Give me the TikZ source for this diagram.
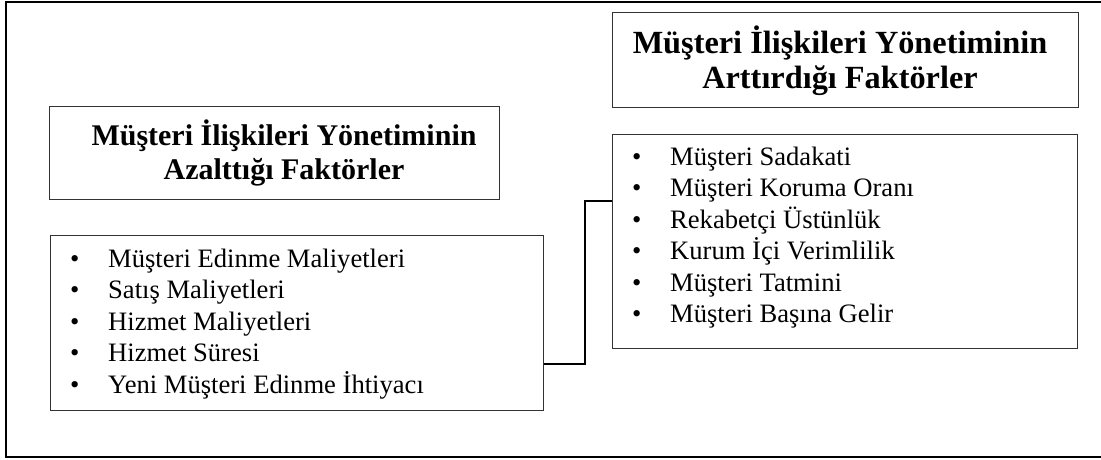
\documentclass[tikz,border=0pt]{standalone}
\usepackage{fontspec}
\setmainfont{Liberation Serif}
\usepackage{array}
\tikzset{
  frameline/.style={line width=2pt, black},
  boxline/.style={draw=black!80, line width=1pt, inner sep=0pt},
  titletext/.style={inner sep=0pt, align=center, font=\bfseries},
  listtext/.style={inner sep=0pt, anchor=base west, align=left},
  conn/.style={line width=1.4pt, black}
}
\newcommand{\bulletlist}[1]{%
  \fontsize{26.6}{31.5}\selectfont
  \begin{tabular}[t]{@{}p{38pt}@{}l@{}}#1\end{tabular}}
\begin{document}
\begin{tikzpicture}[x=1pt, y=-1pt]
  \useasboundingbox (0,0) rectangle (1101,460);
  % outer frame (right side runs off the page)
  \draw[frameline] (1105,2) -- (6,2) -- (6,457) -- (1105,457);

  % left column
  \node[boxline, minimum width=450pt, minimum height=93pt] (lefttitle) at (274,152.5) {};
  \node[titletext, font=\fontsize{30}{34}\selectfont\bfseries] (lefttitletext) at (284,152.5)
    {Müşteri İlişkileri Yönetiminin\\Azalttığı Faktörler};
  \node[boxline, minimum width=493pt, minimum height=175pt] (leftlist) at (296.5,322.5) {};
  \node[listtext] (leftitems) at (70,267) {\bulletlist{
    • & Müşteri Edinme Maliyetleri\\
    • & Satış Maliyetleri\\
    • & Hizmet Maliyetleri\\
    • & Hizmet Süresi\\
    • & Yeni Müşteri Edinme İhtiyacı}};

  % right column
  \node[boxline, minimum width=466pt, minimum height=94pt] (righttitle) at (845,60) {};
  \node[titletext, font=\fontsize{32.3}{35}\selectfont\bfseries] (righttitletext) at (840,61)
    {Müşteri İlişkileri Yönetiminin\\Arttırdığı Faktörler};
  \node[boxline, minimum width=465pt, minimum height=214pt] (rightlist) at (844.5,241) {};
  \node[listtext] (rightitems) at (632,165) {\bulletlist{
    • & Müşteri Sadakati\\
    • & Müşteri Koruma Oranı\\
    • & Rekabetçi Üstünlük\\
    • & Kurum İçi Verimlilik\\
    • & Müşteri Tatmini\\
    • & Müşteri Başına Gelir}};

  % link between the two lists
  \coordinate (bend) at (585,201);
  \draw[conn] (leftlist.east |- 0,364) -| (bend) -- (rightlist.west |- bend);
\end{tikzpicture}
\end{document}
